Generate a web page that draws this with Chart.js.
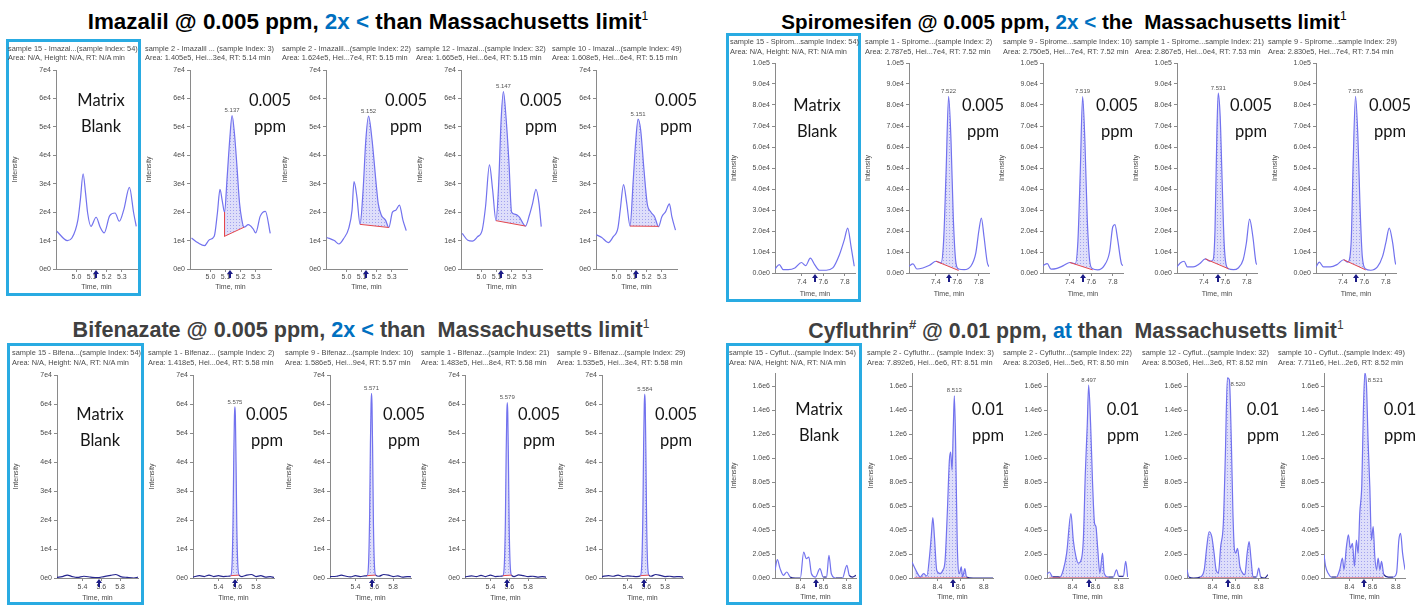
<!DOCTYPE html>
<html><head><meta charset="utf-8">
<script src="https://cdn.jsdelivr.net/npm/chart.js@4/dist/chart.umd.min.js"></script>
<style>
html,body{margin:0;padding:0;background:#fff;}
#root{position:relative;width:1424px;height:605px;overflow:hidden;background:#fff;}
.ttl{position:absolute;width:800px;text-align:center;font-family:'Liberation Sans',Arial,sans-serif;font-weight:bold;line-height:22px;white-space:pre;}
.ttl .b{color:#0070c0;}
.ttl sup{font-weight:normal;font-size:12px;line-height:0;vertical-align:9px;}
.ttl sup.h{font-weight:bold;font-size:13px;}
.hdr{position:absolute;font-family:'Liberation Sans',Arial,sans-serif;font-size:7.4px;color:#4a4a4a;white-space:pre;-webkit-font-smoothing:antialiased;transform:translateZ(0);}
.box{position:absolute;border:3px solid #29abe2;box-sizing:border-box;}
.ann{position:absolute;width:90px;text-align:center;font-family:Lato,'Open Sans',sans-serif;font-size:16.5px;line-height:26px;color:#151515;}
canvas{position:absolute;}
</style></head>
<body><div id="root"></div>
<script>
// ================= DATA =================
// ---- Imazalil (intensity unit 1e4) ----
const imaXTicks = [5.0, 5.1, 5.2, 5.3];
const imaYTicks = [0, 1, 2, 3, 4, 5, 6, 7];
const imaYLabels = ['0e0','1e4','2e4','3e4','4e4','5e4','6e4','7e4'];
const imaT1 = [4.87, 4.94, 4.97, 5.01, 5.026, 5.044, 5.06, 5.074, 5.096, 5.13, 5.157, 5.183, 5.22, 5.255, 5.283, 5.313, 5.35, 5.378, 5.395];
const imaY1 = [1.33, 1.0, 1.09, 1.74, 2.44, 3.35, 2.68, 1.97, 1.5, 1.82, 1.47, 1.27, 1.88, 1.97, 1.68, 2.09, 2.87, 1.97, 1.5];
const imaT2 = [4.875, 4.918, 4.961, 4.993, 5.025, 5.046, 5.063, 5.078, 5.093, 5.11, 5.128, 5.143, 5.158, 5.175, 5.192, 5.207, 5.222, 5.25, 5.282, 5.299, 5.329, 5.363, 5.395];
const imaY2 = [1.09, 0.92, 0.82, 1.03, 1.15, 1.97, 2.8, 2.4, 2.0, 3.2, 4.6, 5.4, 4.8, 3.62, 2.33, 1.74, 1.47, 1.56, 1.41, 1.27, 1.86, 2.03, 1.25];
const imaT3 = [4.87, 4.92, 4.95, 4.983, 5.015, 5.037, 5.05, 5.069, 5.09, 5.11, 5.128, 5.146, 5.168, 5.198, 5.21, 5.23, 5.258, 5.28, 5.304, 5.326, 5.35, 5.373, 5.395];
const imaY3 = [1.11, 1.0, 0.88, 1.08, 1.43, 2.07, 3.07, 2.54, 1.57, 2.78, 4.54, 5.38, 4.6, 2.9, 2.3, 1.9, 1.72, 1.46, 2.0, 2.07, 2.25, 1.72, 1.35];
const imaT4 = [4.873, 4.91, 4.94, 4.973, 5.005, 5.027, 5.053, 5.074, 5.096, 5.113, 5.13, 5.145, 5.162, 5.182, 5.199, 5.22, 5.248, 5.291, 5.317, 5.338, 5.36, 5.38, 5.395];
const imaY4 = [1.25, 1.01, 0.98, 1.13, 1.37, 2.19, 3.66, 2.78, 1.7, 2.9, 5.24, 6.24, 5.36, 3.72, 2.0, 1.93, 1.84, 1.51, 1.9, 2.31, 2.8, 2.31, 1.49];
const imaT5 = [4.867, 4.903, 4.946, 4.978, 5.01, 5.025, 5.047, 5.068, 5.09, 5.111, 5.128, 5.143, 5.16, 5.182, 5.203, 5.225, 5.252, 5.278, 5.3, 5.325, 5.35, 5.366, 5.39];
const imaY5 = [1.2, 1.11, 0.93, 1.13, 1.45, 2.07, 2.97, 2.31, 1.51, 3.13, 4.54, 5.27, 4.89, 3.48, 2.31, 2.02, 1.84, 1.49, 1.84, 2.02, 2.29, 1.84, 1.37];
const imaBaselines = [null, [5.093, 1.15, 5.222, 1.47], [5.09, 1.57, 5.28, 1.46], [5.096, 1.7, 5.291, 1.51], [5.09, 1.51, 5.278, 1.5]];
const imaPeakLabels = ['', '5.137', '5.152', '5.147', '5.151'];
const imaRT = [5.13, 5.13, 5.13, 5.13, 5.13];
const imaHeaders = [
  ['sample 15 - Imazal...(sample Index: 54)', 'Area: N/A, Height: N/A, RT: N/A min'],
  ['sample 2 - Imazalil ... (sample Index: 3)', 'Area: 1.405e5, Hei...3e4, RT: 5.14 min'],
  ['sample 2 - Imazalil...(sample Index: 22)', 'Area: 1.624e5, Hei...7e4, RT: 5.15 min'],
  ['sample 12 - Imazal...(sample Index: 32)', 'Area: 1.665e5, Hei...6e4, RT: 5.15 min'],
  ['sample 10 - Imazal...(sample Index: 49)', 'Area: 1.608e5, Hei...6e4, RT: 5.15 min']];

// ---- Spiromesifen (intensity unit 1e4) ----
const spiXTicks = [7.4, 7.6, 7.8];
const spiYTicks = [0, 1, 2, 3, 4, 5, 6, 7, 8, 9, 10];
const spiYLabels = ['0.0e0','1.0e4','2.0e4','3.0e4','4.0e4','5.0e4','6.0e4','7.0e4','8.0e4','9.0e4','1.0e5'];
const spiT1 = [7.15, 7.19, 7.227, 7.273, 7.335, 7.396, 7.436, 7.479, 7.519, 7.565, 7.627, 7.688, 7.75, 7.796, 7.827, 7.858, 7.888];
const spiY1 = [0.19, 0.4, 0.16, 0.16, 0.24, 0.5, 0.35, 0.71, 0.4, 0.13, 0.13, 0.24, 0.87, 1.59, 2.14, 1.27, 0.32];
const spiT2 = [7.15, 7.187, 7.224, 7.279, 7.341, 7.402, 7.448, 7.473, 7.495, 7.519, 7.541, 7.562, 7.587, 7.612, 7.664, 7.725, 7.772, 7.802, 7.824, 7.848, 7.879, 7.895];
const spiY2 = [0.32, 0.43, 0.19, 0.24, 0.37, 0.56, 0.48, 1.59, 4.76, 8.41, 6.35, 2.7, 0.48, 0.19, 0.16, 0.32, 0.95, 2.06, 2.62, 1.75, 0.5, 0.3];
const spiT3 = [7.15, 7.19, 7.225, 7.28, 7.34, 7.40, 7.45, 7.475, 7.497, 7.519, 7.54, 7.562, 7.587, 7.612, 7.66, 7.72, 7.77, 7.80, 7.82, 7.845, 7.88, 7.895];
const spiY3 = [0.35, 0.45, 0.18, 0.22, 0.35, 0.5, 0.45, 1.5, 4.8, 8.4, 6.3, 2.6, 0.5, 0.2, 0.15, 0.35, 1.0, 2.2, 2.3, 1.6, 0.45, 0.35];
const spiT4 = [7.15, 7.18, 7.216, 7.246, 7.3, 7.36, 7.414, 7.456, 7.486, 7.504, 7.522, 7.534, 7.552, 7.57, 7.589, 7.607, 7.63, 7.676, 7.72, 7.766, 7.796, 7.826, 7.856, 7.886, 7.895];
const spiY4 = [0.29, 0.48, 0.56, 0.29, 0.29, 0.44, 0.67, 0.56, 0.63, 2.06, 6.83, 8.57, 7.46, 4.44, 1.43, 0.4, 0.2, 0.16, 0.24, 0.63, 1.43, 2.57, 1.75, 0.48, 0.4];
const spiT5 = [7.15, 7.181, 7.219, 7.282, 7.345, 7.408, 7.446, 7.477, 7.496, 7.518, 7.54, 7.559, 7.581, 7.612, 7.659, 7.722, 7.77, 7.8, 7.832, 7.864, 7.889, 7.895];
const spiY5 = [0.29, 0.52, 0.29, 0.29, 0.4, 0.63, 0.52, 1.43, 5.24, 8.41, 6.5, 3.33, 0.79, 0.19, 0.13, 0.29, 0.79, 1.43, 2.14, 1.43, 0.48, 0.4];
const spiBaselines = [null, [7.402, 0.56, 7.612, 0.12], [7.40, 0.5, 7.612, 0.15], [7.414, 0.67, 7.63, 0.2], [7.408, 0.63, 7.612, 0.15]];
const spiPeakLabels = ['', '7.522', '7.519', '7.531', '7.536'];
const spiRT = [7.522, 7.52, 7.52, 7.53, 7.52];
const spiHeaders = [
  ['sample 15 - Spirom...sample Index: 54)', 'Area: N/A, Height: N/A, RT: N/A min'],
  ['sample 1 - Spirome...(sample Index: 2)', 'Area: 2.787e5, Hei...7e4, RT: 7.52 min'],
  ['sample 9 - Spirome...sample Index: 10)', 'Area: 2.750e5, Hei...7e4, RT: 7.52 min'],
  ['sample 1 - Spirome...sample Index: 21)', 'Area: 2.867e5, Hei...0e4, RT: 7.53 min'],
  ['sample 9 - Spirome...sample Index: 29)', 'Area: 2.830e5, Hei...7e4, RT: 7.54 min']];

// ---- Bifenazate (intensity unit 1e4) ----
const bifXTicks = [5.4, 5.6, 5.8];
const bifYTicks = [0, 1, 2, 3, 4, 5, 6, 7];
const bifYLabels = ['0e0','1e4','2e4','3e4','4e4','5e4','6e4','7e4'];
const bifT1 = [5.13, 5.186, 5.239, 5.292, 5.345, 5.416, 5.487, 5.557, 5.628, 5.699, 5.752, 5.805, 5.876, 5.947, 5.99];
const bifY1 = [0.02, 0.05, 0.1, 0.05, 0.02, 0.06, 0.03, 0.01, 0.05, 0.09, 0.12, 0.05, 0.02, 0.0, 0.03];
const bifT2 = [5.13, 5.2, 5.25, 5.3, 5.35, 5.4, 5.45, 5.5, 5.53, 5.545, 5.555, 5.563, 5.57, 5.575, 5.58, 5.587, 5.595, 5.605, 5.62, 5.65, 5.7, 5.75, 5.8, 5.85, 5.9, 5.95, 5.99];
const bifY2 = [0.03, 0.08, 0.05, 0.1, 0.05, 0.08, 0.05, 0.06, 0.08, 0.5, 2.0, 4.2, 5.6, 5.9, 5.6, 4.0, 1.8, 0.5, 0.1, 0.05, 0.1, 0.12, 0.05, 0.08, 0.03, 0.05, 0.02];
const bifT3 = [5.13, 5.2, 5.25, 5.3, 5.35, 5.4, 5.45, 5.5, 5.525, 5.54, 5.551, 5.559, 5.566, 5.571, 5.576, 5.583, 5.591, 5.601, 5.615, 5.65, 5.7, 5.75, 5.8, 5.85, 5.9, 5.95, 5.99];
const bifY3 = [0.05, 0.06, 0.1, 0.06, 0.04, 0.08, 0.05, 0.07, 0.08, 0.55, 2.2, 4.6, 6.0, 6.37, 6.0, 4.3, 1.9, 0.5, 0.1, 0.06, 0.12, 0.1, 0.05, 0.07, 0.03, 0.05, 0.04];
const bifT4 = [5.13, 5.2, 5.25, 5.3, 5.35, 5.4, 5.45, 5.5, 5.533, 5.548, 5.559, 5.567, 5.574, 5.579, 5.584, 5.591, 5.599, 5.609, 5.623, 5.65, 5.7, 5.75, 5.8, 5.85, 5.9, 5.95, 5.99];
const bifY4 = [0.04, 0.07, 0.05, 0.09, 0.05, 0.1, 0.05, 0.06, 0.08, 0.5, 2.0, 4.3, 5.7, 6.05, 5.7, 4.1, 1.8, 0.5, 0.1, 0.05, 0.11, 0.08, 0.05, 0.06, 0.03, 0.05, 0.03];
const bifT5 = [5.13, 5.2, 5.25, 5.3, 5.35, 5.4, 5.45, 5.5, 5.538, 5.553, 5.564, 5.572, 5.579, 5.584, 5.589, 5.596, 5.604, 5.614, 5.628, 5.65, 5.7, 5.75, 5.8, 5.85, 5.9, 5.95, 5.99];
const bifY5 = [0.05, 0.08, 0.06, 0.1, 0.05, 0.07, 0.06, 0.05, 0.08, 0.55, 2.2, 4.6, 6.0, 6.34, 6.0, 4.3, 1.9, 0.5, 0.1, 0.06, 0.12, 0.09, 0.05, 0.06, 0.04, 0.05, 0.03];
const bifBaselines = [null, [5.53, 0.08, 5.62, 0.1], [5.525, 0.08, 5.615, 0.1], [5.533, 0.08, 5.623, 0.1], [5.538, 0.08, 5.628, 0.1]];
const bifPeakLabels = ['', '5.575', '5.571', '5.579', '5.584'];
const bifRT = [5.575, 5.575, 5.572, 5.577, 5.58];
const bifHeaders = [
  ['sample 15 - Bifena...(sample Index: 54)', 'Area: N/A, Height: N/A, RT: N/A min'],
  ['sample 1 - Bifenaz... (sample Index: 2)', 'Area: 1.418e5, Hei...0e4, RT: 5.58 min'],
  ['sample 9 - Bifenaz...(sample Index: 10)', 'Area: 1.586e5, Hei...9e4, RT: 5.57 min'],
  ['sample 1 - Bifenaz...(sample Index: 21)', 'Area: 1.483e5, Hei...8e4, RT: 5.58 min'],
  ['sample 9 - Bifenaz...(sample Index: 29)', 'Area: 1.535e5, Hei...3e4, RT: 5.58 min']];

// ---- Cyfluthrin (intensity unit 1e5) ----
const cyfXTicks = [8.4, 8.6, 8.8];
const cyfYTicks = [0, 2, 4, 6, 8, 10, 12, 14, 16];
const cyfYLabels = ['0.0e0','2.0e5','4.0e5','6.0e5','8.0e5','1.0e6','1.2e6','1.4e6','1.6e6'];
const cyfT1 = [8.18, 8.2, 8.224, 8.253, 8.282, 8.311, 8.355, 8.399, 8.428, 8.451, 8.472, 8.495, 8.53, 8.568, 8.597, 8.626, 8.646, 8.667, 8.705, 8.763, 8.801, 8.822, 8.85, 8.88];
const cyfY1 = [0.64, 1.53, 0.78, 0.22, 0.5, 0.08, 0, 0, 2.17, 1.61, 1.75, 0.36, 0.08, 0.78, 0.08, 0.08, 1.89, 0.36, 0, 0, 1.06, 0.22, 0.08, 0.22];
const cyfT2 = [8.18, 8.2, 8.229, 8.251, 8.28, 8.309, 8.331, 8.346, 8.36, 8.374, 8.394, 8.423, 8.446, 8.466, 8.486, 8.503, 8.514, 8.526, 8.537, 8.546, 8.557, 8.571, 8.589, 8.606, 8.617, 8.637, 8.651, 8.709, 8.794, 8.88];
const cyfY2 = [1.34, 0.92, 0.36, 0.08, 0.36, 0.17, 1.75, 3.42, 5.04, 3.42, 0.64, 0.36, 0.64, 1.47, 5.65, 9.82, 10.5, 8.99, 12.6, 15.2, 11.2, 2.87, 0.36, 0.92, 0.08, 0.78, 0.08, 0, 0, 0];
const cyfT3 = [8.18, 8.2, 8.23, 8.26, 8.292, 8.321, 8.35, 8.387, 8.407, 8.43, 8.45, 8.47, 8.494, 8.511, 8.528, 8.54, 8.557, 8.574, 8.591, 8.603, 8.617, 8.637, 8.66, 8.674, 8.71, 8.753, 8.781, 8.8, 8.84, 8.86, 8.877];
const cyfY3 = [0.3, 0.5, 0.1, 0.1, 0.08, 0.69, 2.07, 5.38, 3.17, 1.79, 1.24, 1.38, 3.17, 8.69, 12.8, 16.1, 12.8, 7.86, 4.55, 4.28, 2.62, 0.41, 2.07, 0.41, 0.08, 0.08, 0.69, 0.14, 0.14, 1.38, 0.08];
const cyfT4 = [8.18, 8.197, 8.237, 8.294, 8.329, 8.351, 8.371, 8.394, 8.414, 8.431, 8.451, 8.471, 8.494, 8.511, 8.529, 8.546, 8.563, 8.577, 8.589, 8.6, 8.617, 8.637, 8.66, 8.68, 8.7, 8.717, 8.734, 8.751, 8.78, 8.8, 8.817, 8.851, 8.88];
const cyfY4 = [0.69, 0.08, 0, 0.08, 0.69, 2.62, 3.86, 3.45, 2.07, 0.69, 0.41, 2.62, 4.55, 10.07, 16.7, 16.55, 11.45, 5.38, 2.48, 2.07, 2.48, 0.97, 0.41, 0.28, 2.07, 3.03, 1.52, 0.08, 0.08, 0.83, 0.08, 0, 0.28];
const cyfT5 = [8.18, 8.194, 8.215, 8.244, 8.287, 8.316, 8.339, 8.353, 8.374, 8.391, 8.408, 8.426, 8.443, 8.46, 8.475, 8.489, 8.507, 8.521, 8.533, 8.547, 8.561, 8.576, 8.59, 8.605, 8.619, 8.634, 8.648, 8.663, 8.677, 8.697, 8.735, 8.778, 8.807, 8.827, 8.842, 8.859, 8.88];
const cyfY5 = [1.93, 0.97, 0.41, 0.08, 0.08, 0.69, 1.66, 0.69, 2.62, 3.59, 2.48, 2.9, 0.97, 3.17, 2.07, 5.38, 7.86, 14.2, 17.1, 16.1, 11.45, 7.59, 3.17, 4.28, 1.79, 0.69, 1.66, 0.69, 1.38, 0.28, 0.08, 0.08, 0.41, 3.17, 3.72, 2.07, 0.69];
const cyfBaselines = [null, [8.2, 0, 8.66, 0], [8.2, 0, 8.71, 0], [8.294, 0, 8.751, 0], [8.287, 0, 8.697, 0]];
const cyfPeakLabels = ['', '8.513', '8.497', '8.520', '8.521'];
const cyfRT = [8.535, 8.535, 8.54, 8.531, 8.524];
const cyfHeaders = [
  ['sample 15 - Cyflut...(sample Index: 54)', 'Area: N/A, Height: N/A, RT: N/A min'],
  ['sample 2 - Cyfluthr... (sample Index: 3)', 'Area: 7.892e6, Hei...6e6, RT: 8.51 min'],
  ['sample 2 - Cyfluthr...(sample Index: 22)', 'Area: 8.203e6, Hei...5e6, RT: 8.50 min'],
  ['sample 12 - Cyflut...(sample Index: 32)', 'Area: 8.503e6, Hei...3e6, RT: 8.52 min'],
  ['sample 10 - Cyflut...(sample Index: 49)', 'Area: 7.711e6, Hei...2e6, RT: 8.52 min']];

// ================= GROUPS (data refs + layout) =================
const groups = [
  { title: 'Imazalil @ 0.005 ppm, <span class="b">2x &lt;</span> than Massachusetts limit<sup>1</sup>',
    T: [imaT1, imaT2, imaT3, imaT4, imaT5], Y: [imaY1, imaY2, imaY3, imaY4, imaY5],
    base: imaBaselines, peakLbl: imaPeakLabels, rt: imaRT, headers: imaHeaders,
    xTicks: imaXTicks, yTicks: imaYTicks, yLabels: imaYLabels, xMin: 4.865, xMax: 5.4, yMax: 7, conc: '0.005', dark: false,
    L: { axisX: [56, 190, 326, 461, 596], plotW: 81, plotTop: 70, plotBottom: 269, xh: 22, tickPad: 1,
         hdrX: [8, 145, 282, 416, 552], hdr1: 48, hdrLH: 9, annY: 100, blankDX: 45, concDX: 80,
         box: [6, 39, 135, 257], tcx: 368, ttop: 11, tsize: 22.4, tcolor: '#000' } },
  { title: 'Spiromesifen @ 0.005 ppm, <span class="b">2x &lt;</span> the  Massachusetts limit<sup>1</sup>',
    T: [spiT1, spiT2, spiT3, spiT4, spiT5], Y: [spiY1, spiY2, spiY3, spiY4, spiY5],
    base: spiBaselines, peakLbl: spiPeakLabels, rt: spiRT, headers: spiHeaders,
    xTicks: spiXTicks, yTicks: spiYTicks, yLabels: spiYLabels, xMin: 7.15, xMax: 7.895, yMax: 10, conc: '0.005', dark: false,
    L: { axisX: [775, 909, 1043, 1177, 1316], plotW: 80, plotTop: 63, plotBottom: 273, xh: 25, tickPad: 2,
         hdrX: [730, 865, 1003, 1135, 1268], hdr1: 42, hdrLH: 10, annY: 105, blankDX: 42, concDX: 74,
         box: [726, 33, 135, 269], tcx: 1064, ttop: 11, tsize: 20.6, tcolor: '#000' } },
  { title: 'Bifenazate @ 0.005 ppm, <span class="b">2x &lt;</span> than  Massachusetts limit<sup>1</sup>',
    T: [bifT1, bifT2, bifT3, bifT4, bifT5], Y: [bifY1, bifY2, bifY3, bifY4, bifY5],
    base: bifBaselines, peakLbl: bifPeakLabels, rt: bifRT, headers: bifHeaders,
    xTicks: bifXTicks, yTicks: bifYTicks, yLabels: bifYLabels, xMin: 5.13, xMax: 5.99, yMax: 7, conc: '0.005', dark: true,
    L: { axisX: [57, 193, 330, 465, 602], plotW: 81, plotTop: 375, plotBottom: 578, xh: 24, tickPad: 2,
         hdrX: [12, 148, 285, 421, 557], hdr1: 353, hdrLH: 9.5, annY: 414, blankDX: 43, concDX: 74,
         box: [7, 343, 137, 262], tcx: 361, ttop: 319, tsize: 21.6, tcolor: '#404040' } },
  { title: 'Cyfluthrin<sup class="h">#</sup> @ 0.01 ppm, <span class="b">at</span> than  Massachusetts limit<sup>1</sup>',
    T: [cyfT1, cyfT2, cyfT3, cyfT4, cyfT5], Y: [cyfY1, cyfY2, cyfY3, cyfY4, cyfY5],
    base: cyfBaselines, peakLbl: cyfPeakLabels, rt: cyfRT, headers: cyfHeaders,
    xTicks: cyfXTicks, yTicks: cyfYTicks, yLabels: cyfYLabels, xMin: 8.18, xMax: 8.88, yMax: 17.1, conc: '0.01', dark: true,
    L: { axisX: [775, 912, 1047, 1187, 1324], plotW: 81, plotTop: 373, plotBottom: 578, xh: 23, tickPad: 2,
         hdrX: [729, 867, 1003, 1142, 1278], hdr1: 353, hdrLH: 9.5, annY: 409, blankDX: 44, concDX: 76,
         box: [726, 343, 136, 262], tcx: 1076, ttop: 320, tsize: 21.3, tcolor: '#404040' } }
];

// ================= RENDER =================
const LINE = '#7272ee', DARK = '#26268f', RED = '#e5484d', ARROW = '#1b1b86', AX = '#8a8a8a', TXT = '#4a4a4a';
const YW = 45, TP = 8, RP = 26;
const FONT = "'Liberation Sans', Arial, sans-serif";
Chart.defaults.font.family = FONT;
const root = document.getElementById('root');

function el(cls, css, html) {
  const d = document.createElement('div');
  d.className = cls; Object.assign(d.style, css); d.innerHTML = html; root.appendChild(d); return d;
}

function buildPanel(g, i) {
  const L = g.L, T = g.T[i], Y = g.Y[i];
  const left = L.axisX[i] - YW, top = L.plotTop - TP;
  const w = YW + L.plotW + RP, h = TP + (L.plotBottom - L.plotTop) + L.xh;
  const cv = document.createElement('canvas');
  cv.width = w; cv.height = h;
  Object.assign(cv.style, { left: left + 'px', top: top + 'px', width: w + 'px', height: h + 'px' });
  root.appendChild(cv);
  const ctx = cv.getContext('2d');
  const tile = document.createElement('canvas'); tile.width = 3; tile.height = 3;
  const tg = tile.getContext('2d');
  tg.fillStyle = '#dedefa'; tg.fillRect(0, 0, 3, 3); tg.fillStyle = '#a2a2ee'; tg.fillRect(1, 1, 1, 1);
  const pattern = ctx.createPattern(tile, 'repeat');

  const trace = T.map((t, k) => ({ x: t, y: Y[k] }));
  const thr = g.yMax * 0.02;
  const ds = [{ data: trace, borderColor: LINE, borderWidth: 1.2, pointRadius: 0, cubicInterpolationMode: 'monotone', fill: false, order: 0,
    segment: g.dark ? { borderColor: c => (c.p0.parsed.y < thr && c.p1.parsed.y < thr) ? DARK : undefined } : {} }];
  let peak = null;
  const b = g.base[i];
  if (b) {
    const sub = trace.filter(p => p.x >= b[0] - 1e-9 && p.x <= b[2] + 1e-9);
    peak = sub.reduce((m, p) => p.y > m.y ? p : m, sub[0]);
    ds.push({ data: sub, borderColor: 'rgba(0,0,0,0)', borderWidth: 0, pointRadius: 0, cubicInterpolationMode: 'monotone', fill: 2, backgroundColor: pattern, order: 3 });
    ds.push({ data: [{ x: b[0], y: b[1] }, { x: b[2], y: b[3] }], borderColor: RED, borderWidth: 1, pointRadius: 0, fill: false, order: -1 });
    if (sub[0].y - b[1] > 0.1 * g.yMax) {
      ds.push({ data: [{ x: b[0], y: sub[0].y }, { x: b[0], y: b[1] }], borderColor: RED, borderWidth: 1, pointRadius: 0, fill: false, order: -1 });
    }
  }
  const label = g.peakLbl[i], rt = g.rt[i];
  const ann = {
    id: 'ann' + i,
    afterDatasetsDraw(chart) {
      if (!peak) return;
      const c = chart.ctx, a = chart.chartArea;
      const px = chart.scales.x.getPixelForValue(peak.x), py = chart.scales.y.getPixelForValue(peak.y);
      c.save(); c.font = '6px ' + FONT; c.fillStyle = '#555';
      if (py - 9 < a.top) { c.textAlign = 'left'; c.textBaseline = 'middle'; c.fillText(label, px + 3, py + 7); }
      else { c.textAlign = 'center'; c.textBaseline = 'bottom'; c.fillText(label, px, py - 2); }
      c.restore();
    },
    afterDraw(chart) {
      const c = chart.ctx, a = chart.chartArea;
      const ax = Math.round(chart.scales.x.getPixelForValue(rt));
      c.save(); c.fillStyle = ARROW;
      c.beginPath(); c.moveTo(ax, a.bottom + 1); c.lineTo(ax - 3, a.bottom + 5); c.lineTo(ax + 3, a.bottom + 5); c.closePath(); c.fill();
      c.fillRect(ax - 1, a.bottom + 5, 2, 4);
      c.restore();
    }
  };
  const gridOpt = { display: true, drawOnChartArea: false, drawTicks: true, tickLength: 3, color: AX };
  new Chart(ctx, {
    type: 'line',
    data: { datasets: ds },
    options: {
      responsive: false, animation: false, events: [],
      layout: { padding: { left: 0, top: TP, right: RP, bottom: 0 } },
      plugins: { legend: { display: false }, tooltip: { enabled: false } },
      scales: {
        x: { type: 'linear', min: g.xMin, max: g.xMax, grid: gridOpt, border: { display: true, color: AX, width: 1 },
             ticks: { font: { size: 7 }, color: TXT, padding: L.tickPad, maxRotation: 0, autoSkip: false, callback: v => v.toFixed(1) },
             title: { display: true, text: 'Time, min', font: { size: 7 }, color: TXT, padding: { top: 0, bottom: 0 } },
             afterBuildTicks: s => { s.ticks = g.xTicks.map(v => ({ value: v })); },
             afterFit: s => { s.height = L.xh; } },
        y: { type: 'linear', min: 0, max: g.yMax, grid: gridOpt, border: { display: true, color: AX, width: 1 },
             ticks: { font: { size: 7 }, color: TXT, padding: 2, autoSkip: false, callback: v => g.yLabels[g.yTicks.indexOf(v)] },
             title: { display: true, text: 'Intensity', font: { size: 7 }, color: TXT, padding: 0 },
             afterBuildTicks: s => { s.ticks = g.yTicks.map(v => ({ value: v })); },
             afterFit: s => { s.width = YW; } }
      }
    },
    plugins: [ann]
  });

  el('hdr', { left: L.hdrX[i] + 'px', top: (L.hdr1 - L.hdrLH / 2) + 'px', lineHeight: L.hdrLH + 'px' }, g.headers[i].join('\n'));
  const cx = L.axisX[i] + (i === 0 ? L.blankDX : L.concDX);
  el('ann', { left: (cx - 45) + 'px', top: (L.annY - 13) + 'px' }, i === 0 ? 'Matrix<br>Blank' : g.conc + '<br>ppm');
}

groups.forEach(g => {
  const L = g.L;
  el('box', { left: L.box[0] + 'px', top: L.box[1] + 'px', width: L.box[2] + 'px', height: L.box[3] + 'px' }, '');
  el('ttl', { left: (L.tcx - 400) + 'px', top: L.ttop + 'px', color: L.tcolor, fontSize: L.tsize + 'px' }, g.title);
  for (let i = 0; i < 5; i++) buildPanel(g, i);
});
</script>
</body></html>
